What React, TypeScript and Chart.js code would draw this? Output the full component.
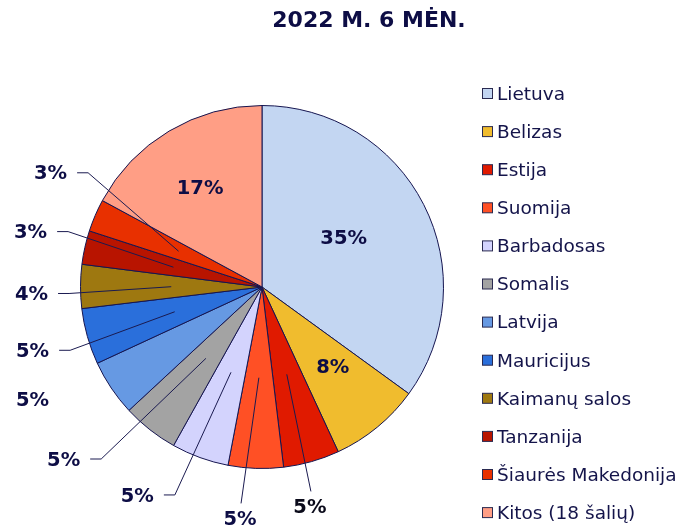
import React, { useEffect, useRef } from "react";
import { Chart, registerables } from "chart.js";

Chart.register(...registerables);

const TITLE = "2022 M. 6 MĖN.";
const categories = [
  "Lietuva",
  "Belizas",
  "Estija",
  "Suomija",
  "Barbadosas",
  "Somalis",
  "Latvija",
  "Mauricijus",
  "Kaimanų salos",
  "Tanzanija",
  "Šiaurės Makedonija",
  "Kitos (18 šalių)",
];
const shares = [35.0, 8.1, 5.0, 4.9, 5.1, 5.0, 5.0, 5.0, 3.9, 3.0, 2.9, 17.1];

const colors = [
  "#c3d6f2",
  "#f0bc2e",
  "#e01a00",
  "#ff5025",
  "#d3d3fd",
  "#a3a3a3",
  "#6699e3",
  "#2a6fdb",
  "#9e7810",
  "#b81400",
  "#e83000",
  "#ff9e85",
];

// label placement relative to pie centre, in units of radius; leader style
const labelOffsets: [number, number][] = [
  [0.45, -0.264],
  [0.39, 0.445],
  [0.264, 1.22],
  [-0.121, 1.286],
  [-0.687, 1.154],
  [-1.093, 0.956],
  [-1.264, 0.626],
  [-1.264, 0.357],
  [-1.27, 0.044],
  [-1.275, -0.297],
  [-1.165, -0.621],
  [-0.341, -0.538],
];
const leaderStyle = ["none", "none", "below", "below", "left", "left", "none", "left", "left", "left", "left", "none"];

const NAVY = "#0d0d45";
const BORDER = "#151550";

const overlayPlugin = {
  id: "overlay",
  afterDraw(chart: any) {
    const ctx = chart.ctx as CanvasRenderingContext2D;
    const meta = chart.getDatasetMeta(0);
    ctx.save();

    // title
    ctx.fillStyle = NAVY;
    ctx.font = "bold 22px 'DejaVu Sans'";
    ctx.textAlign = "center";
    ctx.textBaseline = "middle";
    ctx.fillText(TITLE, 369, 21);

    // labels + leaders
    ctx.font = "bold 19.5px 'DejaVu Sans'";
    meta.data.forEach((arc: any, i: number) => {
      const { x, y, startAngle, endAngle, outerRadius } = arc.getProps(
        ["x", "y", "startAngle", "endAngle", "outerRadius"],
        true
      );
      const r = outerRadius;
      const lx = x + labelOffsets[i][0] * r;
      const ly = y + labelOffsets[i][1] * r;
      const txt = Math.round(shares[i]) + "%";
      const w = ctx.measureText(txt).width;
      const mid = (startAngle + endAngle) / 2;
      const ax = x + Math.cos(mid) * r * 0.5;
      const ay = y + Math.sin(mid) * r * 0.5;
      ctx.strokeStyle = "#1a1a50";
      ctx.lineWidth = 1;
      if (leaderStyle[i] === "left") {
        const sx = lx + w / 2 + 10;
        const sy = ly - 1.5;
        ctx.beginPath();
        ctx.moveTo(sx, sy);
        ctx.lineTo(sx + 11, sy);
        ctx.lineTo(ax, ay);
        ctx.stroke();
      } else if (leaderStyle[i] === "below") {
        ctx.beginPath();
        ctx.moveTo(lx + 1, ly - 17);
        ctx.lineTo(ax, ay);
        ctx.stroke();
      }
      ctx.fillStyle = i === 2 ? "#0a0a1a" : NAVY;
      ctx.textAlign = "center";
      ctx.textBaseline = "middle";
      ctx.fillText(txt, lx, ly);
    });

    // legend
    ctx.font = "18.5px 'DejaVu Sans'";
    ctx.textAlign = "left";
    ctx.textBaseline = "middle";
    categories.forEach((c, i) => {
      const iy = 94 + i * 38.1;
      ctx.fillStyle = colors[i];
      ctx.fillRect(482.5, iy - 5.5, 10, 10);
      ctx.strokeStyle = "#2a2a50";
      ctx.lineWidth = 1;
      ctx.strokeRect(482.5, iy - 5.5, 10, 10);
      ctx.fillStyle = "#14144a";
      ctx.fillText(c, 497, iy + 1);
    });
    ctx.restore();
  },
};

export default function App() {
  const ref = useRef<HTMLCanvasElement | null>(null);
  useEffect(() => {
    if (!ref.current) return;
    const chart = new Chart(ref.current, {
      type: "pie",
      data: {
        labels: categories,
        datasets: [
          {
            data: shares,
            backgroundColor: colors,
            borderColor: BORDER,
            borderWidth: 1,
            hoverOffset: 0,
          },
        ],
      },
      options: {
        responsive: false,
        animation: false,
        devicePixelRatio: 1,
        layout: { padding: { left: 80, right: 240, top: 105, bottom: 58 } },
        plugins: {
          legend: { display: false },
          title: { display: false },
          tooltip: { enabled: false },
        },
      },
      plugins: [overlayPlugin],
    });
    return () => chart.destroy();
  }, []);
  return (
    <div style={{ position: "fixed", left: 0, top: 0, width: 684, height: 527, background: "#fff" }}>
      <canvas ref={ref} width={684} height={527} style={{ display: "block" }} />
    </div>
  );
}
